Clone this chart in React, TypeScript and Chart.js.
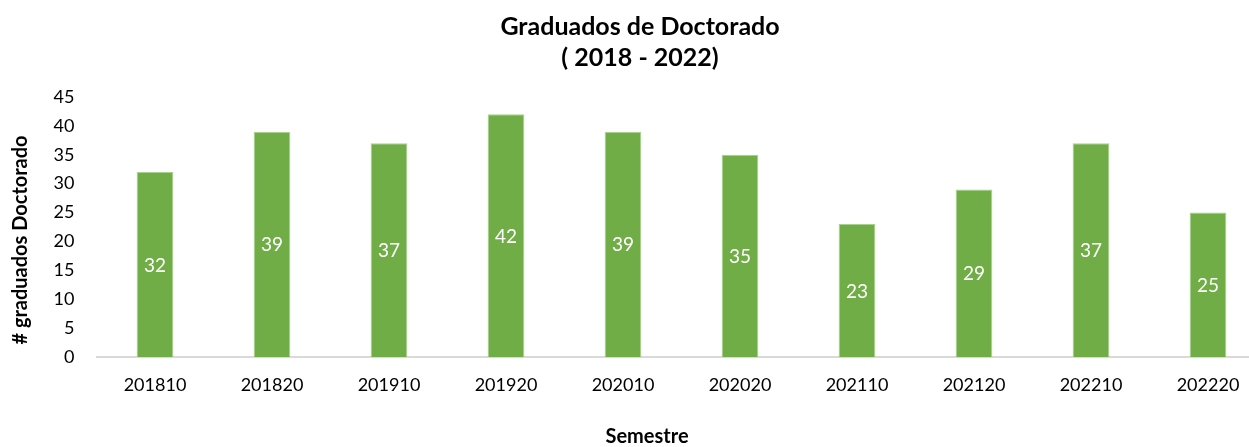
import React, { useEffect, useRef } from "react";
import { Chart, registerables } from "chart.js";

Chart.register(...registerables);

const categories = ["201810", "201820", "201910", "201920", "202010", "202020", "202110", "202120", "202210", "202220"];
const graduados = [32, 39, 37, 42, 39, 35, 23, 29, 37, 25];
const titleLines = ["Graduados de Doctorado", "( 2018 - 2022)"];
const yTitle = "# graduados Doctorado";
const xTitle = "Semestre";

const FONT = "Lato, 'Noto Sans', sans-serif";

const labelPlugin = {
  id: "barLabels",
  afterDatasetsDraw(chart: any) {
    const ctx = chart.ctx;
    const meta = chart.getDatasetMeta(0);
    ctx.save();
    ctx.fillStyle = "#ffffff";
    ctx.font = `19px ${FONT}`;
    ctx.textAlign = "center";
    ctx.textBaseline = "middle";
    meta.data.forEach((bar: any, i: number) => {
      const { x, y, base } = bar.getProps(["x", "y", "base"], true);
      ctx.fillText(String(chart.data.datasets[0].data[i]), x, (y + base) / 2 + 1);
    });
    ctx.restore();
  },
};

const titlesPlugin = {
  id: "chartTitles",
  afterDraw(chart: any) {
    const ctx = chart.ctx;
    ctx.save();
    ctx.fillStyle = "#000000";
    ctx.textAlign = "center";
    ctx.textBaseline = "middle";
    ctx.font = `bold 25px ${FONT}`;
    ctx.fillText(titleLines[0], 640, 27);
    ctx.fillText(titleLines[1], 640, 58);
    ctx.font = `bold 20px ${FONT}`;
    ctx.fillText(xTitle, 647, 437);
    ctx.translate(21, 240);
    ctx.rotate(-Math.PI / 2);
    ctx.fillText(yTitle, 0, 0);
    ctx.restore();
  },
};

export default function App() {
  const ref = useRef<HTMLCanvasElement>(null);
  useEffect(() => {
    if (!ref.current) return;
    const chart = new Chart(ref.current, {
      type: "bar",
      data: {
        labels: categories,
        datasets: [
          {
            data: graduados,
            backgroundColor: "#70AD47",
            borderColor: "#A9D18E",
            borderWidth: 1,
            categoryPercentage: 1,
            barPercentage: 0.314,
          },
        ],
      },
      options: {
        animation: false,
        responsive: false,
        maintainAspectRatio: false,
        layout: { padding: { top: 97, right: 13.5, left: 0, bottom: 0 } },
        plugins: {
          legend: { display: false },
          tooltip: { enabled: false },
          title: { display: false },
        },
        scales: {
          x: {
            afterFit: (s: any) => {
              s.height = 90;
            },
            grid: { display: false },
            border: { display: true, color: "#d9d9d9", width: 2 },
            ticks: { color: "#000000", font: { family: FONT, size: 18 }, padding: 9, maxRotation: 0 },
            title: { display: false },
          },
          y: {
            min: 0,
            max: 45,
            afterFit: (s: any) => {
              s.width = 96.5;
            },
            grid: { display: false },
            border: { display: false },
            ticks: { stepSize: 5, color: "#000000", font: { family: FONT, size: 18 }, padding: 14 },
            title: { display: false },
          },
        },
      },
      plugins: [labelPlugin, titlesPlugin],
    });
    return () => chart.destroy();
  }, []);
  return (
    <div style={{ position: "absolute", left: 0, top: 0, width: 1249, height: 447, overflow: "hidden", background: "#fff" }}>
      <canvas ref={ref} width={1280} height={447} style={{ display: "block" }} />
    </div>
  );
}
